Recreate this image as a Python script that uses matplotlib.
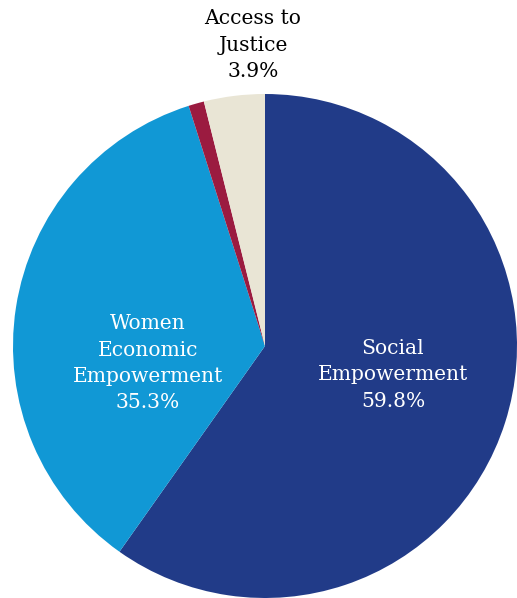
import matplotlib
matplotlib.use("Agg")
import matplotlib.pyplot as plt

categories = ["Social\nEmpowerment", "Women\nEconomic\nEmpowerment", "Other", "Access to\nJustice"]
values = [59.8, 35.3, 1.0, 3.9]
colors = ["#213B88", "#1198D5", "#9B1B40", "#E9E5D5"]
label_text_colors = ["white", "white", None, "black"]

W, H = 517, 598
fig = plt.figure(figsize=(W / 100, H / 100), dpi=100)
ax = fig.add_axes([0, 0, 1, 1])
R = 252.0
cx, cy = 265.0, 346.0
ax.pie(values, colors=colors, startangle=90, counterclock=False, radius=1.0,
       center=(0, 0), wedgeprops=dict(linewidth=0))
ax.set_xlim(-cx / R, (W - cx) / R)
ax.set_ylim(-(H - cy) / R, cy / R)
ax.set_aspect("equal")
ax.axis("off")

label_pos = [(0.508, -0.115), (-0.464, -0.068), None, (-0.048, 1.194)]
font = dict(family="DejaVu Serif", fontsize=14.6, ha="center", va="center", linespacing=1.48)
for cat, v, pos, col in zip(categories, values, label_pos, label_text_colors):
    if pos is None:
        continue
    ax.text(pos[0], pos[1], f"{cat}\n{v:.1f}%", color=col, **font)

fig.savefig("out.png", dpi=100)
